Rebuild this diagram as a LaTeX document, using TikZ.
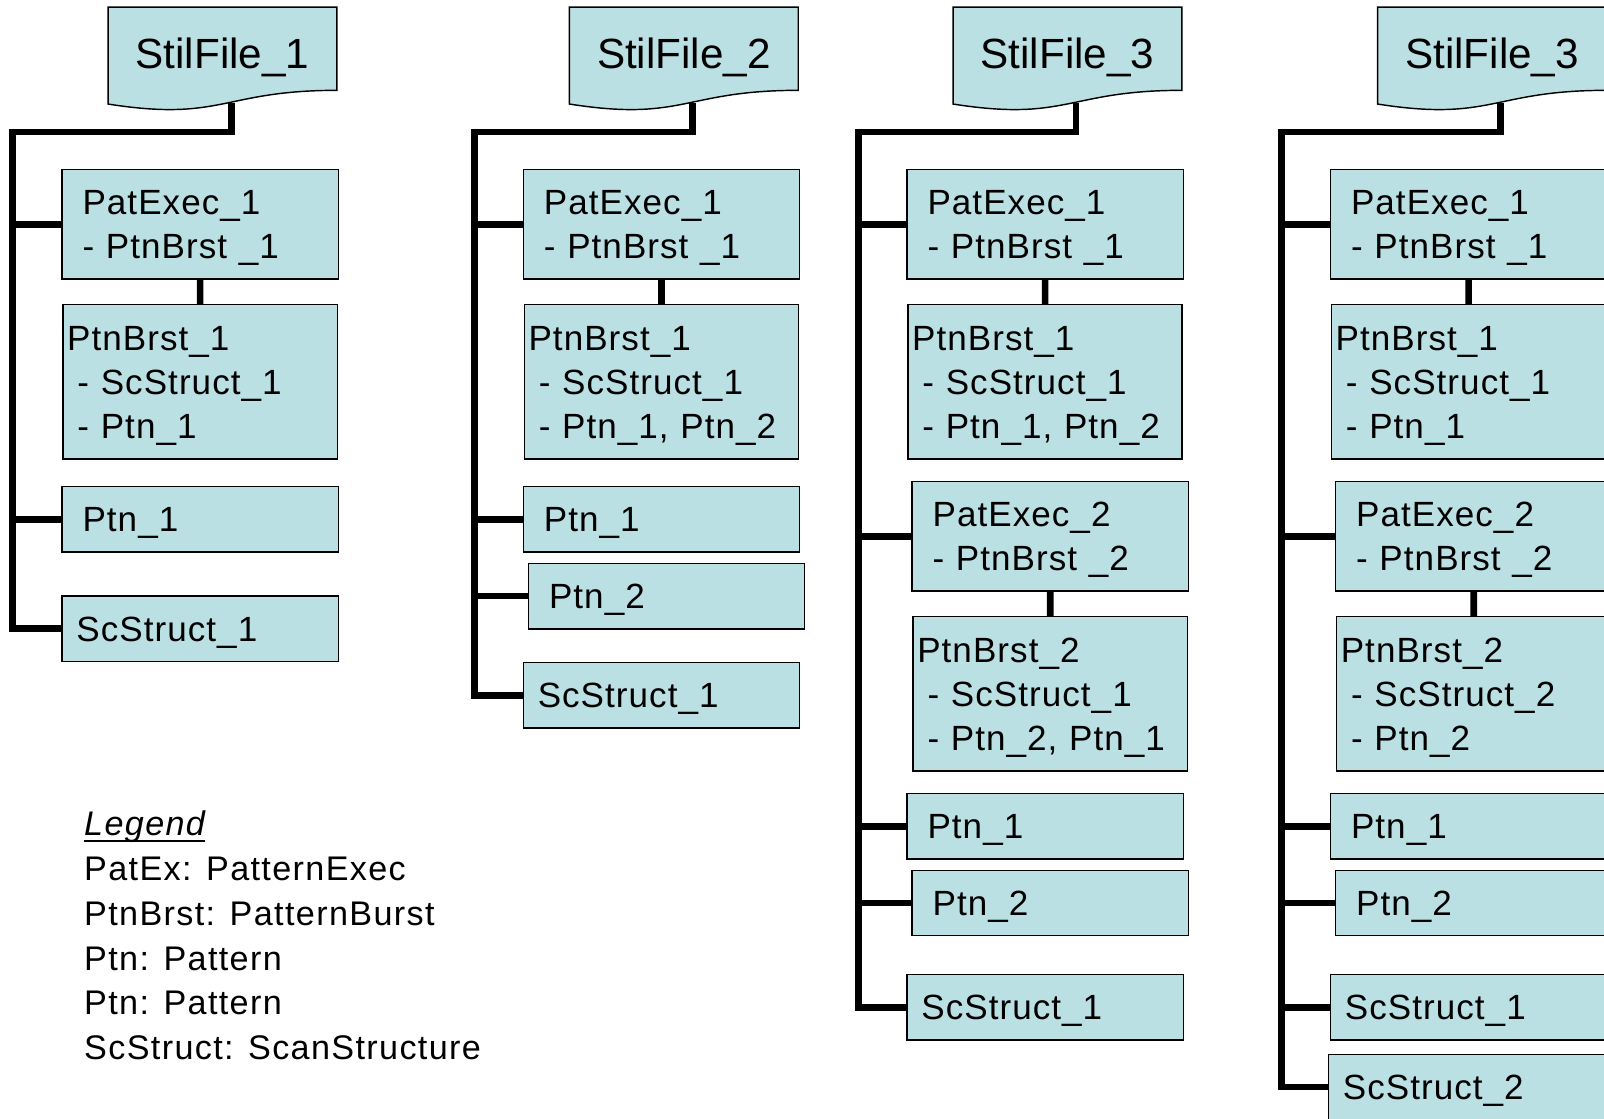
\documentclass[tikz,border=0pt]{standalone}
\usepackage{fontspec}
\setmainfont{Liberation Sans}
\newfontfamily\boxfont{Liberation Sans}[LetterSpace=3]
\newfontfamily\legendfont{Liberation Sans}[LetterSpace=4]
\usetikzlibrary{backgrounds,calc}
\definecolor{boxblue}{RGB}{187,224,227}
\newcommand{\ulword}[1]{\setbox0\hbox{#1}\rlap{\rule[-3.6pt]{\wd0}{1.2pt}}\box0}
\tikzset{
  box/.style={draw, fill=boxblue, line width=0.8pt, anchor=north west, inner ysep=0pt,
    align=left, text height=17.9pt, font=\boxfont\fontsize{19.5}{24.6}\selectfont},
  pebox/.style={box, inner xsep=0.4cm, text width=4.6cm, minimum height=2.14cm},
  pbbox/.style={box, inner xsep=0.08cm, text width=5.2cm, minimum height=3.02cm},
  ptnbox/.style={box, inner xsep=0.4cm, text width=4.6cm, minimum height=1.28cm},
  scbox/.style={box, inner xsep=0.28cm, text width=4.84cm, minimum height=1.28cm},
  filebox/.style={minimum width=4.46cm, minimum height=1.79cm, inner sep=0pt,
    text depth=0pt, font=\fontsize{23.5}{28}\selectfont},
  fileline/.style={draw, fill=boxblue, line width=0.8pt, line join=miter},
  trunk/.style={line width=3.7pt, line join=miter},
}
\begin{document}
\begin{tikzpicture}[x=0.02cm, y=-0.02cm]
  \useasboundingbox (0,0) rectangle (1568,1093);

  % stil files
  \node[filebox] (f1) at (217.5,52) {StilFile\_1};
  \node[filebox] (f2) at (668.5,52) {StilFile\_2};
  \node[filebox] (f3) at (1043.5,52) {StilFile\_3};
  \node[filebox] (f4) at (1458.5,52) {StilFile\_3};
  \begin{scope}[on background layer]
    \foreach \f in {f1,f2,f3,f4}
      \draw[fileline] (\f.north west) -- (\f.north east) -- ($(\f.north east)+(0,81.4)$)
        .. controls ($(\f.north)+(0,81.4)$) and ($(\f.north)+(0,112.4)$) .. ($(\f.north west)+(0,94.8)$) -- cycle;
  \end{scope}

  % file 1
  \node[pebox] (pe11) at (60,165) {PatExec\_1\\- PtnBrst \_1};
  \node[pbbox] (pb11) at (61,297) {PtnBrst\_1\\\hspace*{0.2cm}- ScStruct\_1\\\hspace*{0.2cm}- Ptn\_1};
  \node[ptnbox] (pt11) at (60,475) {Ptn\_1};
  \node[scbox] (sc11) at (60,582) {ScStruct\_1};

  % file 2
  \node[pebox] (pe21) at (511,165) {PatExec\_1\\- PtnBrst \_1};
  \node[pbbox] (pb21) at (512,297) {PtnBrst\_1\\\hspace*{0.2cm}- ScStruct\_1\\\hspace*{0.2cm}- Ptn\_1, Ptn\_2};
  \node[ptnbox] (pt21) at (511,475) {Ptn\_1};
  \node[ptnbox] (pt22) at (516,550) {Ptn\_2};
  \node[scbox] (sc21) at (511,647) {ScStruct\_1};

  % file 3
  \node[pebox] (pe31) at (886,165) {PatExec\_1\\- PtnBrst \_1};
  \node[pbbox] (pb31) at (887,297) {PtnBrst\_1\\\hspace*{0.2cm}- ScStruct\_1\\\hspace*{0.2cm}- Ptn\_1, Ptn\_2};
  \node[pebox] (pe32) at (891,470) {PatExec\_2\\- PtnBrst \_2};
  \node[pbbox] (pb32) at (892,602) {PtnBrst\_2\\\hspace*{0.2cm}- ScStruct\_1\\\hspace*{0.2cm}- Ptn\_2, Ptn\_1};
  \node[ptnbox] (pt31) at (886,775) {Ptn\_1};
  \node[ptnbox] (pt32) at (891,850) {Ptn\_2};
  \node[scbox] (sc31) at (886,952) {ScStruct\_1};

  % file 3 (second)
  \node[pebox] (pe41) at (1300,165) {PatExec\_1\\- PtnBrst \_1};
  \node[pbbox] (pb41) at (1301,297) {PtnBrst\_1\\\hspace*{0.2cm}- ScStruct\_1\\\hspace*{0.2cm}- Ptn\_1};
  \node[pebox] (pe42) at (1305,470) {PatExec\_2\\- PtnBrst \_2};
  \node[pbbox] (pb42) at (1306,602) {PtnBrst\_2\\\hspace*{0.2cm}- ScStruct\_2\\\hspace*{0.2cm}- Ptn\_2};
  \node[ptnbox] (pt41) at (1300,775) {Ptn\_1};
  \node[ptnbox] (pt42) at (1305,850) {Ptn\_2};
  \node[scbox] (sc41) at (1300,952) {ScStruct\_1};
  \node[scbox] (sc42) at (1298,1030) {ScStruct\_2};

  % trunks
  \coordinate (f1b) at (226,101);  \coordinate (s1) at (12,129);
  \coordinate (f2b) at (677,101);  \coordinate (s2) at (464,129);
  \coordinate (f3b) at (1052,101); \coordinate (s3) at (839,129);
  \coordinate (f4b) at (1467,101); \coordinate (s4) at (1253,129);

  \draw[trunk] (f1b) |- (s1) |- (sc11.west);
  \draw[trunk] (f2b) |- (s2) |- (sc21.west);
  \draw[trunk] (f3b) |- (s3) |- (sc31.west);
  \draw[trunk] (f4b) |- (s4) |- (sc42.west);
  \foreach \b in {pe11,pt11} \draw[trunk] (s1 |- \b.west) -- (\b.west);
  \foreach \b in {pe21,pt21,pt22} \draw[trunk] (s2 |- \b.west) -- (\b.west);
  \foreach \b in {pe31,pe32,pt31,pt32} \draw[trunk] (s3 |- \b.west) -- (\b.west);
  \foreach \b in {pe41,pe42,pt41,pt42,sc41} \draw[trunk] (s4 |- \b.west) -- (\b.west);

  \draw[trunk] (pe11.south) -- (pb11.north);
  \draw[trunk] (pe21.south) -- (pb21.north);
  \draw[trunk] (pe31.south) -- (pb31.north);
  \draw[trunk] (pe32.south) -- (pb32.north);
  \draw[trunk] (pe41.south) -- (pb41.north);
  \draw[trunk] (pe42.south) -- (pb42.north);

  % legend
  \node[anchor=north west, inner sep=0pt, align=left, font=\legendfont\fontsize{19}{24.9}\selectfont]
    (legend) at (82,792.5) {\ulword{\itshape Legend}\\PatEx: PatternExec\\PtnBrst: PatternBurst\\Ptn: Pattern\\Ptn: Pattern\\ScStruct: ScanStructure};
\end{tikzpicture}
\end{document}
